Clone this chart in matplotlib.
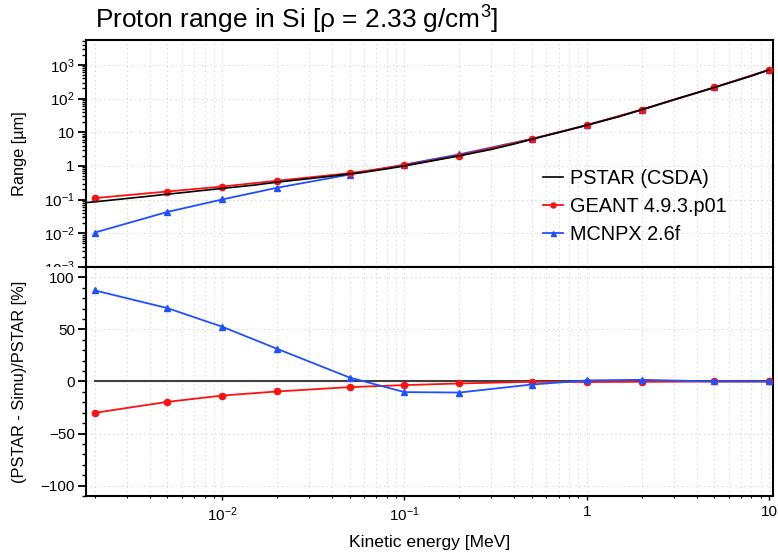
import math
import matplotlib
matplotlib.use("Agg")
import matplotlib.pyplot as plt
from matplotlib.ticker import FixedLocator, FuncFormatter, MultipleLocator, LogLocator, NullFormatter
from matplotlib.transforms import Bbox, TransformedBbox

plt.rcParams['font.family'] = ['Liberation Sans', 'DejaVu Sans']
plt.rcParams['mathtext.fontset'] = 'custom'
plt.rcParams['mathtext.rm'] = 'Liberation Sans'
plt.rcParams['mathtext.it'] = 'Liberation Sans:italic'

# PSTAR (CSDA) reference curve, range in um
pstar_energy = [0.001, 0.0015, 0.002, 0.003, 0.004, 0.005, 0.006, 0.008, 0.01, 0.015,
                0.02, 0.03, 0.04, 0.05, 0.06, 0.08, 0.1, 0.15, 0.2, 0.3, 0.4, 0.5,
                0.6, 0.8, 1, 1.5, 2, 3, 4, 5, 6, 8, 10]
pstar_range = [0.060, 0.075, 0.086, 0.108, 0.127, 0.145, 0.160, 0.190, 0.215, 0.27,
               0.33, 0.42, 0.50, 0.58, 0.65, 0.82, 1.00, 1.50, 2.00, 3.1, 4.5, 6.2,
               8.0, 11.8, 16.3, 29, 47, 93, 148, 214, 290, 470, 715]

# simulation energies (MeV)
sim_energy = [0.002, 0.005, 0.01, 0.02, 0.05, 0.1, 0.2, 0.5, 1, 2, 5, 10]
geant_range = [0.111, 0.174, 0.245, 0.363, 0.61, 1.04, 2.04, 6.25, 16.4, 47, 214, 715]
mcnpx_range = [0.0105, 0.043, 0.101, 0.225, 0.555, 1.10, 2.21, 6.4, 16.2, 46.3, 214, 715]

# relative difference (PSTAR - Simu)/PSTAR in %
geant_diff = [-30.1, -19.6, -13.5, -9.6, -5.4, -3.5, -1.9, -0.3, -0.5, -0.3, 0.0, 0.0]
mcnpx_diff = [87.5, 70.5, 52.6, 31.4, 3.8, -10.2, -10.6, -2.9, 1.0, 1.6, 0.0, 0.0]

zero_energy = [0.002, 10]
zero_level = [0, 0]

RED = '#ff1010'
BLUE = '#1f50ff'

fig = plt.figure(figsize=(7.78, 5.57), dpi=100)
ax1 = fig.add_axes([0.1105, 0.5207, 0.8830, 0.4075])
ax2 = fig.add_axes([0.1105, 0.1095, 0.8830, 0.4112])

xlim = (0.00179, 10.5)


def style_axes(ax):
    ax.set_xscale('log')
    ax.set_xlim(*xlim)
    for sp in ax.spines.values():
        sp.set_linewidth(1.5)
    ax.tick_params(axis='y', which='major', direction='out', length=6, width=1.3,
                   labelsize=11, right=False, pad=2)
    ax.tick_params(axis='y', which='minor', direction='out', length=3, width=1.0, right=False)
    ax.tick_params(axis='x', which='major', direction='out', length=3, width=1.0,
                   labelsize=11, top=False)
    ax.tick_params(axis='x', which='minor', direction='out', length=1.5, width=0.8, top=False)
    ax.xaxis.set_major_locator(FixedLocator([0.01, 0.1, 1, 10]))
    ax.xaxis.set_minor_locator(LogLocator(base=10, subs=range(2, 10), numticks=20))
    ax.xaxis.set_minor_formatter(NullFormatter())
    ax.grid(True, which='major', axis='both', color='#d0d0d0', lw=0.8, ls=(0, (1, 3)))
    ax.grid(True, which='minor', axis='x', color='#d0d0d0', lw=0.8, ls=(0, (1, 3)))
    ax.set_axisbelow(True)


def pow_fmt(v, pos):
    if abs(v - 1) < 1e-9:
        return '1'
    if abs(v - 10) < 1e-9:
        return '10'
    e = int(round(math.log10(v)))
    return r'$10^{%d}$' % e


style_axes(ax1)
style_axes(ax2)

# ---- top panel: range
ax1.plot(pstar_energy, pstar_range, color='black', lw=1.2, label='PSTAR (CSDA)', zorder=4)
ax1.plot(sim_energy, geant_range, color=RED, lw=1.3, marker='o', ms=4.5,
         label='GEANT 4.9.3.p01', zorder=3)
ax1.plot(sim_energy, mcnpx_range, color=BLUE, lw=1.3, marker='^', ms=4.5,
         label='MCNPX 2.6f', zorder=2)
ax1.set_yscale('log')
ax1.set_ylim(1e-3, 5.5e3)
ax1.yaxis.set_major_locator(FixedLocator([1e-3, 1e-2, 1e-1, 1, 10, 1e2, 1e3]))
ax1.yaxis.set_minor_locator(LogLocator(base=10, subs=range(2, 10), numticks=20))
ax1.yaxis.set_minor_formatter(NullFormatter())
ax1.yaxis.set_major_formatter(FuncFormatter(pow_fmt))
ax1.tick_params(axis='x', which='both', labelbottom=False, length=0)
ax1.set_ylabel('Range [µm]', fontsize=11.8)
ax1.yaxis.set_label_coords(-0.086, 0.5)
ax1.text(0.013, 1.0485, r'Proton range in Si [ρ = 2.33 g/cm$^{3}$]', fontsize=18.9,
         transform=ax1.transAxes, ha='left', va='baseline')

leg = ax1.legend(loc='upper left', bbox_to_anchor=(0.665, 0.43), frameon=False,
                 fontsize=14.3, handlelength=1.0, handletextpad=0.35,
                 labelspacing=0.45, borderpad=0, borderaxespad=0, markerscale=0.8)

# clip the 10^-3 label at the panel border like in the original
clip = TransformedBbox(Bbox([[0, 0.5207], [1, 1]]), fig.transFigure)
fig.canvas.draw()
for lab in ax1.get_yticklabels():
    lab.set_clip_box(clip)
    lab.set_clip_on(True)

# ---- bottom panel: relative difference
ax2.plot(zero_energy, zero_level, color='#404040', lw=1.5, zorder=2)
ax2.plot(sim_energy, geant_diff, color=RED, lw=1.3, marker='o', ms=4.5, zorder=3)
ax2.plot(sim_energy, mcnpx_diff, color=BLUE, lw=1.3, marker='^', ms=4.5, zorder=4)
ax2.set_ylim(-110, 110)
ax2.yaxis.set_major_locator(FixedLocator([-100, -50, 0, 50, 100]))
ax2.yaxis.set_minor_locator(MultipleLocator(10))
ax2.xaxis.set_major_formatter(FuncFormatter(pow_fmt))
ax2.set_ylabel('(PSTAR - Simu)/PSTAR [%]', fontsize=11.8)
ax2.yaxis.set_label_coords(-0.086, 0.5)
ax2.set_xlabel('Kinetic energy [MeV]', fontsize=12.6, labelpad=8)

fig.savefig('out.png', dpi=100)
